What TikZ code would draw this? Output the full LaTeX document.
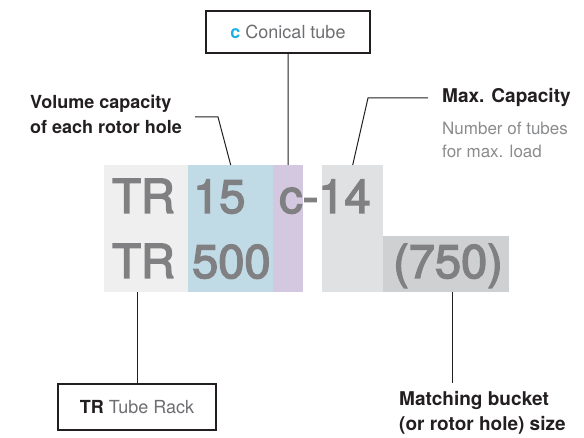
\documentclass[tikz,border=0pt]{standalone}
\usepackage{fontspec}
\setmainfont{TeX Gyre Heros}
\newfontface\codeface[RawFeature={embolden=3}]{TeX Gyre Heros}
\usetikzlibrary{positioning}
\definecolor{rackgray}{HTML}{EFEFEF}
\definecolor{volblue}{HTML}{C0DAE6}
\definecolor{conepurple}{HTML}{D4C8E1}
\definecolor{capgray}{HTML}{E0E1E3}
\definecolor{bucketgray}{HTML}{CFD0D2}
\definecolor{digitgray}{HTML}{808083}
\definecolor{labelblack}{HTML}{231F20}
\definecolor{keygray}{HTML}{6D6E71}
\definecolor{subgray}{HTML}{8A8B8D}
\definecolor{cyanc}{HTML}{1CAEE6}
\begin{document}
\begin{tikzpicture}[
  x=1pt, y=-1pt,
  blk/.style={rectangle, inner sep=0pt, anchor=north west},
  bigtxt/.style={anchor=base west, inner sep=0pt, text=digitgray, font=\codeface\fontsize{47}{47}\selectfont},
  lbl/.style={inner sep=0pt, align=left, text=labelblack, font=\bfseries\fontsize{19}{25}\selectfont},
  sub/.style={inner sep=0pt, align=left, text=subgray, font=\fontsize{17}{23}\selectfont},
  keybox/.style={rectangle, draw=labelblack, line width=1.2pt, text=keygray, font=\fontsize{18}{18}\selectfont},
  conn/.style={draw=labelblack, line width=1pt}
]
  \useasboundingbox (0,0) rectangle (584,438);

  % coloured blocks
  \node[blk, fill=rackgray, minimum width=84pt, minimum height=127pt] (rack) at (104,165) {};
  \node[blk, fill=volblue, minimum width=85pt, minimum height=127pt] (vol) at (188,165) {};
  \node[blk, fill=conepurple, minimum width=30pt, minimum height=127pt] (cone) at (273,165) {};
  \node[blk, fill=capgray, minimum width=61pt, minimum height=127pt] (cap) at (322,165) {};
  \node[blk, fill=bucketgray, minimum width=126pt, minimum height=56pt] (bucket) at (383,236) {};

  % model codes
  \node[bigtxt] (tr1) at (112,213) {TR};
  \node[bigtxt] (n15) at (193,213) {15};
  \node[bigtxt] (c14) at (279,213) {c-14};
  \node[bigtxt] (tr2) at (112,278) {TR};
  \node[bigtxt] (n500) at (192,278) {500};
  \node[bigtxt] (n750) at (393,278) {(750)};

  % keys and labels
  \node[keybox, minimum width=164pt, minimum height=42pt] (conical) at (288,32) {\textcolor{cyanc}{\bfseries c} Conical tube};
  \node[keybox, minimum width=158pt, minimum height=46pt] (rackkey) at (137,407) {\textcolor{labelblack}{\bfseries TR} Tube Rack};
  \node[lbl, anchor=east, font=\bfseries\fontsize{18}{25}\selectfont] (volume) at (182,114.5) {Volume capacity\\of each rotor hole};
  \node[lbl, anchor=west] (maxcap) at (442,98) {Max. Capacity};
  \node[sub, anchor=west] (tubes) at (442,139.5) {Number of tubes\\for max. load};
  \node[lbl, anchor=west] (match) at (399,412.5) {Matching bucket\\(or rotor hole) size};

  % connectors
  \coordinate (volstart) at (195,117);
  \coordinate (volknee) at (218,117);
  \coordinate (capstart) at (428,98);
  \coordinate (capknee) at (368,98);
  \coordinate (buckettop) at (452,292);
  \coordinate (bucketend) at (452,383);
  \draw[conn] (conical.south) -- (cone.north);
  \draw[conn] (volstart) -- (volknee) -- (vol.north);
  \draw[conn] (capstart) -- (capknee) -- (cap.north);
  \draw[conn] (rackkey.north) -- (rackkey.north |- rack.south);
  \draw[conn] (buckettop) -- (bucketend);
\end{tikzpicture}
\end{document}
